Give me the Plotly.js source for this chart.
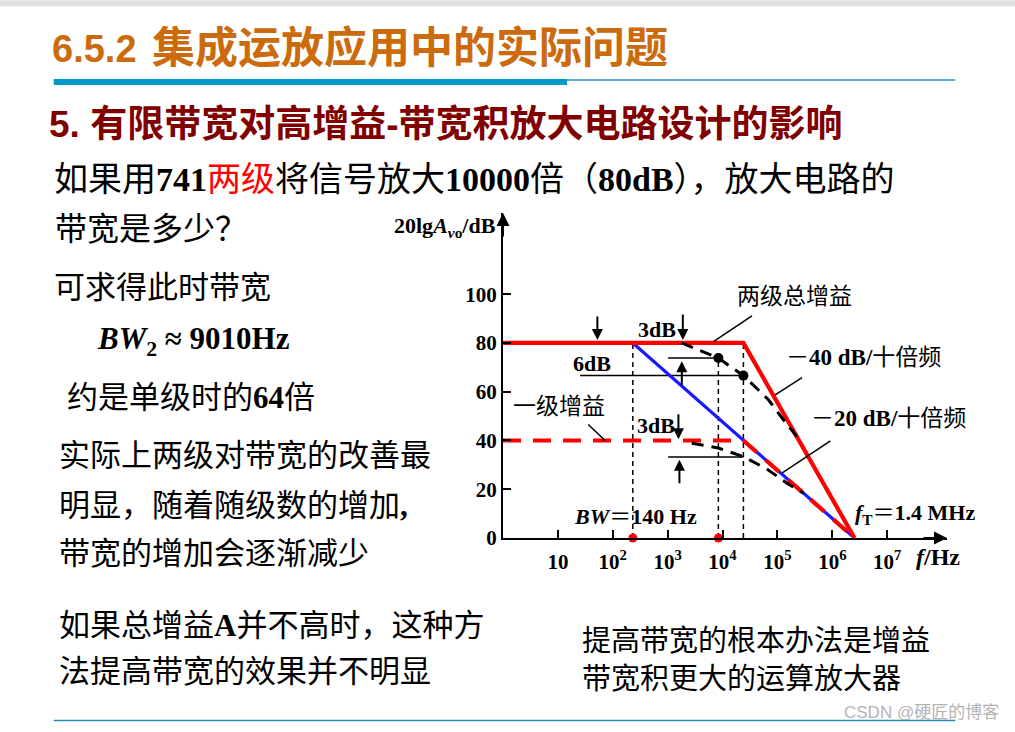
<!DOCTYPE html>
<html><head><meta charset="utf-8">
<script src="https://cdn.plot.ly/plotly-3.0.1.min.js"></script>
<style>html,body{margin:0;padding:0;background:#fff;} #chart{width:1015px;height:732px;}</style>
</head><body><div id="chart"></div>
<script>
// ---------- data (frequencies in Hz, gains in dB) ----------
const gainTicks = [0, 20, 40, 60, 80, 100];
const freqTicks = [10, 100, 1e3, 1e4, 1e5, 1e6, 1e7];
const freqTickText = ['10', '10<sup>2</sup>', '10<sup>3</sup>', '10<sup>4</sup>', '10<sup>5</sup>', '10<sup>6</sup>', '10<sup>7</sup>'];

const twoStageF = [1, 24000, 2540000];          // ideal two-stage asymptote
const twoStageDB = [80, 80, 0];
const oneStageF = [1, 24000, 2540000];          // single-stage gain (dashed red)
const oneStageDB = [40, 40, 0];
const gbwF = [232, 24000, 2540000];             // -20 dB/dec GBW line (blue)
const gbwDB = [80, 40, 0];
const realTwoF = [1810, 8400, 24000, 68700, 128800, 226000];   // actual two-stage curve
const realTwoDB = [80, 73.8, 66.6, 56.7, 48.5, 41.6];
const realOneF = [2750, 8400, 24000, 64300, 148600, 298500];   // actual one-stage curve
const realOneDB = [38.9, 36.9, 33.4, 28.3, 22.5, 18.4];
const bandF = [232, 8400];                       // BW, BW2 marks on axis
const bandDB = [0, 0];
const dotF = [8400, 24000];
const dotDB = [73.8, 66.6];
const guideF = [232, 232, null, 8400, 8400, null, 24000, 24000];
const guideDB = [0, 80, null, 0, 73.8, null, 0, 80];
const refF = [1020, 8400, null, 25.3, 24000, null, 1020, 24000];
const refDB = [73.8, 73.8, null, 66.6, 66.6, null, 33.2, 33.2];

// ---------- geometry helpers (page pixels -> paper / data) ----------
const L = 503, R = 946.7, T = 213, B = 538.3, XMAX = 8.09, YMAX = 133.3;
const PX = p => (p - L) / (R - L);
const PY = p => (B - p) / (B - T);
const X = p => PX(p) * XMAX;
const Y = p => PY(p) * YMAX;

const SERIF = '"Liberation Serif", "Noto Sans CJK SC", serif';
const SANS = '"Liberation Sans", "Noto Sans CJK SC", sans-serif';

const line = (x, y, color, width, dash) => ({
  x, y, type: 'scatter', mode: 'lines', hoverinfo: 'skip', showlegend: false,
  line: {color, width, dash: dash || 'solid'}, cliponaxis: false
});

const traces = [
  line(guideF, guideDB, '#000', 1.5, '5px,4px'),
  line(refF, refDB, '#000', 1.5),
  line(gbwF, gbwDB, '#1a1aff', 3.2),
  line(oneStageF, oneStageDB, '#ff0000', 4.2, '18px,12px'),
  line(twoStageF, twoStageDB, '#ff0000', 4.2),
  line(realTwoF, realTwoDB, '#000', 3, '12px,8px'),
  line(realOneF, realOneDB, '#000', 3, '12px,8px'),
  {x: dotF, y: dotDB, type: 'scatter', mode: 'markers', hoverinfo: 'skip', showlegend: false,
   marker: {color: '#000', size: 10}},
  {x: bandF, y: bandDB, type: 'scatter', mode: 'markers', hoverinfo: 'skip', showlegend: false,
   marker: {color: '#ff0000', size: 9}, cliponaxis: false}
];

const ann = [];
// page text (paper coords)
function ptxt(x, y, text, size, opts) {
  opts = opts || {};
  ann.push({xref: 'paper', yref: 'paper', x: PX(x), y: PY(y), text, showarrow: false,
    xanchor: opts.anchor || 'left', yanchor: 'middle',
    font: {family: opts.family || SERIF, size, color: opts.color || '#000', weight: opts.weight || 'normal'}});
}
// chart text (data coords)
function dtxt(x, y, text, size, opts) {
  opts = opts || {};
  ann.push({xref: 'x', yref: 'y', x: X(x), y: Y(y), text, showarrow: false,
    xanchor: opts.anchor || 'center', yanchor: 'middle',
    font: {family: SERIF, size, color: '#000', weight: opts.weight || 'normal'}});
}
function arrow(x0, y0, x1, y1, head, color) {
  ann.push({xref: 'x', yref: 'y', axref: 'x', ayref: 'y', x: X(x1), y: Y(y1), ax: X(x0), ay: Y(y0),
    text: '', showarrow: true, arrowhead: head, arrowsize: 1.1, arrowwidth: head ? 2 : 1.5,
    arrowcolor: color || '#000', standoff: 0, startstandoff: 0});
}

ptxt(50, 49, '6.5.2', 38, {family: SANS, color: '#cc6a0e', weight: 'bold'});
ptxt(150, 48, '集成运放应用中的实际问题', 43, {family: SANS, color: '#cc6a0e', weight: 'bold'});
ptxt(47, 124, '5. 有限带宽对高增益-带宽积放大电路设计的影响', 37, {family: SANS, color: '#800000', weight: 'bold'});
ptxt(52, 179, '如果用<b>741</b><span style="color:#ff0000">两级</span>将信号放大<b>10000</b>倍（<b>80dB</b>），放大电路的', 34);
ptxt(53, 229, '带宽是多少？', 32);
ptxt(52, 288, '可求得此时带宽', 31);
ptxt(95, 341, '<b><i>BW</i><sub>2</sub> ≈ 9010Hz</b>', 31);
ptxt(65, 398, '约是单级时的<b>64</b>倍', 31);
ptxt(57, 456, '实际上两级对带宽的改善最', 31);
ptxt(57, 506, '明显，随着随级数的增加<b>,</b>', 31);
ptxt(57, 554, '带宽的增加会逐渐减少', 31);
ptxt(57, 626, '如果总增益<b>A</b>并不高时，这种方', 31);
ptxt(57, 672, '法提高带宽的效果并不明显', 31);
ptxt(580, 641, '提高带宽的根本办法是增益', 29);
ptxt(580, 679, '带宽积更大的运算放大器', 29);
ptxt(1001, 713, 'CSDN @硬匠的博客', 17, {family: SANS, color: '#b4b4b4', anchor: 'right'});

// axis labels
ptxt(498, 227, '20lg<i>A</i><sub><i>v</i>o</sub>/dB', 22, {anchor: 'right', weight: 'bold'});
ptxt(938, 557, '<i>f</i>/Hz', 24, {anchor: 'center', weight: 'bold'});

// chart labels
dtxt(794, 297, '两级总增益', 23);
dtxt(863, 358, '－<b>40 dB/</b>十倍频', 23);
dtxt(888, 419, '－<b>20 dB/</b>十倍频', 23);
dtxt(915, 514, '<b><i>f</i><sub>T</sub></b>＝<b>1.4 MHz</b>', 22);
dtxt(635, 517, '<b><i>BW</i></b>＝<b>140 Hz</b>', 22);
dtxt(657, 330, '3dB', 22, {weight: 'bold'});
dtxt(592, 364, '6dB', 22, {weight: 'bold'});
dtxt(656, 426, '3dB', 22, {weight: 'bold'});
dtxt(559, 407, '一级增益', 23);
dtxt(682, 592, '<b><i>BW</i><sub>2</sub> ≈ 9010Hz</b>', 19);

// annotation arrows (3dB / 6dB markers)
arrow(597.3, 315, 597.3, 340, 2);
arrow(682.7, 313, 682.7, 340, 2);
arrow(681.7, 387, 681.7, 361.5, 2);
arrow(678.3, 413, 678.3, 439.5, 2);
arrow(679.3, 485, 679.3, 460, 2);
// leader lines
arrow(586.7, 423.3, 605, 440.7, 0);
arrow(753.3, 315, 713.3, 341.7, 0);
arrow(803.3, 376.7, 775, 395, 0);
arrow(831.7, 440, 781.7, 473.3, 0);
// red arrow to BW2
arrow(674, 578, 714, 542, 2, '#ff0000');

// axis arrowheads
ann.push({xref: 'paper', yref: 'paper', x: 1, y: 0, ax: -25, ay: 0, text: '', showarrow: true,
  arrowhead: 2, arrowsize: 1.3, arrowwidth: 2, arrowcolor: '#000', standoff: 0});
ann.push({xref: 'paper', yref: 'paper', x: 0, y: 1, ax: 0, ay: 25, text: '', showarrow: true,
  arrowhead: 2, arrowsize: 1.3, arrowwidth: 2, arrowcolor: '#000', standoff: 0});

const shapes = [
  {type: 'rect', xref: 'paper', yref: 'paper', x0: PX(0), x1: PX(1015), y0: PY(0), y1: PY(6),
   fillcolor: '#e2e2e2', line: {width: 0}, layer: 'above'},
  {type: 'rect', xref: 'paper', yref: 'paper', x0: PX(54), x1: PX(567), y0: PY(79), y1: PY(85),
   fillcolor: '#0099cc', line: {width: 0}, layer: 'above'},
  {type: 'line', xref: 'paper', yref: 'paper', x0: PX(567), x1: PX(955), y0: PY(79.8), y1: PY(79.8),
   line: {color: '#1c98c8', width: 1.5}, layer: 'above'},
  {type: 'line', xref: 'paper', yref: 'paper', x0: PX(54), x1: PX(955), y0: PY(721), y1: PY(721),
   line: {color: '#2a8fb5', width: 1.5}, layer: 'above'}
];

const tickFont = {family: SERIF, size: 21, color: '#000', weight: 'bold'};
const layout = {
  width: 1015, height: 732, autosize: false,
  margin: {l: L, r: 1015 - R, t: T, b: 732 - B, pad: 0},
  paper_bgcolor: '#fff', plot_bgcolor: '#fff',
  xaxis: {type: 'log', range: [0, XMAX], showgrid: false, zeroline: false,
    showline: true, linecolor: '#000', linewidth: 2,
    ticks: 'inside', ticklen: 8, tickwidth: 2, tickcolor: '#000',
    tickmode: 'array', tickvals: freqTicks, ticktext: freqTickText, tickfont: tickFont,
    ticklabelstandoff: 4, fixedrange: true},
  yaxis: {range: [0, YMAX], showgrid: false, zeroline: false,
    showline: true, linecolor: '#000', linewidth: 2,
    ticks: 'inside', ticklen: 8, tickwidth: 2, tickcolor: '#000',
    tickmode: 'array', tickvals: gainTicks, tickfont: tickFont, fixedrange: true},
  annotations: ann,
  shapes: shapes
};

Plotly.newPlot('chart', traces, layout, {staticPlot: true, displayModeBar: false});
</script>
</body></html>
